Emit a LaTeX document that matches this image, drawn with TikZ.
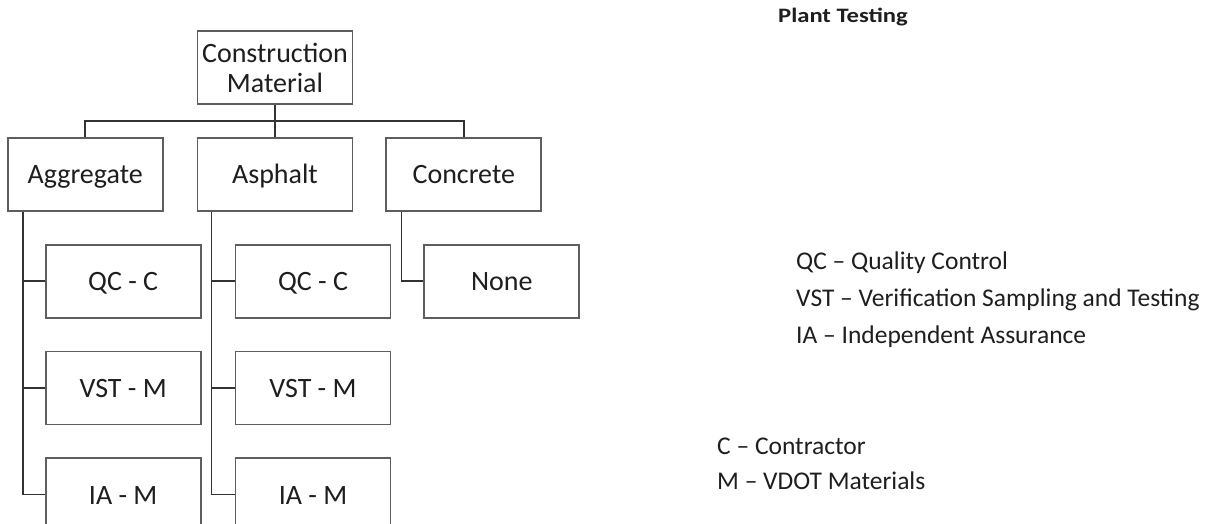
\documentclass[tikz,border=0pt]{standalone}
\usepackage{fontspec}
\setmainfont{Carlito}
\usepackage{xcolor}
\usetikzlibrary{positioning,calc}
\definecolor{BoxGray}{HTML}{5E5E5E}
\definecolor{LineGray}{HTML}{333333}
\definecolor{InkBlack}{HTML}{1E1E1E}
\tikzset{
  box/.style={draw=BoxGray, line width=1.8pt, fill=white, minimum width=155pt, minimum height=73pt, inner sep=0pt, align=center, text=InkBlack, font=\fontsize{28}{30}\selectfont},
  onebox/.style={box, text height=19pt, text depth=0pt},
  link/.style={draw=LineGray, line width=1.5pt},
  legend/.style={anchor=base west, inner sep=0pt, text=InkBlack, font=\fontsize{25.5}{30}\selectfont}
}
\begin{document}
\begin{tikzpicture}[x=1pt, y=1pt, node distance=32pt]
\useasboundingbox (0,0) rectangle (1206,-523);

% top level
\node[box] (mat) at (275,-67.5) {Construction\\Material};

% material types
\node[onebox, below=of mat] (asph) {Asphalt};
\node[onebox, left=33pt of asph] (agg) {Aggregate};
\node[onebox, right=of asph] (conc) {Concrete};

% testing per type
\node[onebox, below=of agg, xshift=38pt] (aggqc) {QC - C};
\node[onebox, below=of aggqc] (aggvst) {VST - M};
\node[onebox, below=of aggvst] (aggia) {IA - M};

\node[onebox, below=of asph, xshift=38pt] (asphqc) {QC - C};
\node[onebox, below=of asphqc] (asphvst) {VST - M};
\node[onebox, below=of asphvst] (asphia) {IA - M};

\node[onebox, below=of conc, xshift=38pt] (concnone) {None};

% connectors
\draw[link] (mat.south) -- (asph.north);
\draw[link] (agg.north) -- ++(0,16) -| (conc.north);

\coordinate (aggtrunk) at ($(agg.south west)+(16,0)$);
\coordinate (asphtrunk) at ($(asph.south west)+(15,0)$);
\coordinate (conctrunk) at ($(conc.south west)+(16,0)$);

\draw[link] (aggtrunk) |- (aggia.west);
\draw[link] (aggqc.west) -- (aggqc.west -| aggtrunk);
\draw[link] (aggvst.west) -- (aggvst.west -| aggtrunk);

\draw[link] (asphtrunk) |- (asphia.west);
\draw[link] (asphqc.west) -- (asphqc.west -| asphtrunk);
\draw[link] (asphvst.west) -- (asphvst.west -| asphtrunk);

\draw[link] (conctrunk) |- (concnone.west);

% legend
\node[legend, font=\fontsize{20.5}{24}\selectfont\bfseries\addfontfeature{FakeStretch=1.2}] (title) at (778,-22) {Plant Testing};
\node[legend] (lqc) at (796,-269) {QC – Quality Control};
\node[legend] (lvst) at (796,-306) {VST – Verification Sampling and Testing};
\node[legend] (lia) at (796,-343) {IA – Independent Assurance};
\node[legend] (lc) at (717,-454) {C – Contractor};
\node[legend] (lm) at (717,-489) {M – VDOT Materials};
\end{tikzpicture}
\end{document}
